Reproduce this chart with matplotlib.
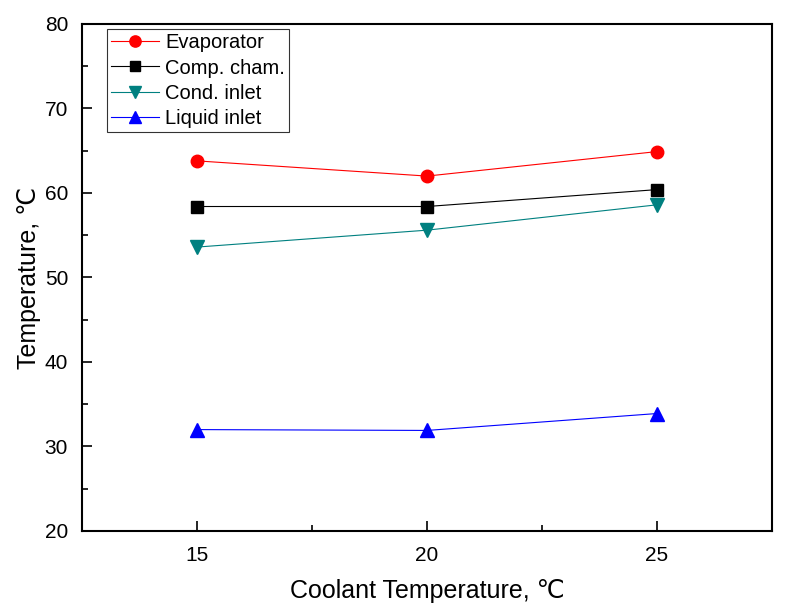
import matplotlib
matplotlib.use("Agg")
import matplotlib.pyplot as plt
from matplotlib.ticker import MultipleLocator

plt.rcParams["font.family"] = ["Liberation Sans", "DejaVu Sans"]

coolant = [15, 20, 25]
evaporator = [63.8, 62.0, 64.9]
comp_cham = [58.4, 58.4, 60.4]
cond_inlet = [53.6, 55.6, 58.6]
liquid_inlet = [32.0, 31.9, 33.9]

fig = plt.figure(figsize=(8, 6.15), dpi=100)
ax = fig.add_axes([0.1025, 0.1366, 0.8625, 0.8244])

ax.plot(coolant, evaporator, color="red", lw=0.8, marker="o", ms=9, label="Evaporator")
ax.plot(coolant, comp_cham, color="black", lw=0.8, marker="s", ms=8, label="Comp. cham.")
ax.plot(coolant, cond_inlet, color="#008080", lw=0.8, marker="v", ms=10, label="Cond. inlet")
ax.plot(coolant, liquid_inlet, color="blue", lw=0.8, marker="^", ms=10, label="Liquid inlet")

ax.set_xlim(12.5, 27.5)
ax.set_ylim(20, 80)
ax.xaxis.set_major_locator(MultipleLocator(5))
ax.xaxis.set_minor_locator(MultipleLocator(2.5))
ax.yaxis.set_major_locator(MultipleLocator(10))
ax.yaxis.set_minor_locator(MultipleLocator(5))
ax.tick_params(which="both", direction="in", top=False, right=False, labelsize=15, width=1.2)
ax.tick_params(which="major", length=7)
ax.tick_params(which="minor", length=4)
ax.tick_params(axis="x", pad=11)
ax.tick_params(axis="y", pad=10)
for sp in ax.spines.values():
    sp.set_linewidth(1.5)

ax.set_xlabel("Coolant Temperature, \u2103", fontsize=18, labelpad=10)
ax.set_ylabel("Temperature, \u2103", fontsize=18, labelpad=3)

leg = ax.legend(loc="upper left", bbox_to_anchor=(0.036, 0.99), borderaxespad=0,
                fontsize=14.5, frameon=True, fancybox=False, edgecolor="black",
                handlelength=2.4, borderpad=0.2, labelspacing=0.32, handletextpad=0.3,
                markerscale=0.9)
leg.get_frame().set_linewidth(0.8)

fig.savefig("out.png", dpi=100)
